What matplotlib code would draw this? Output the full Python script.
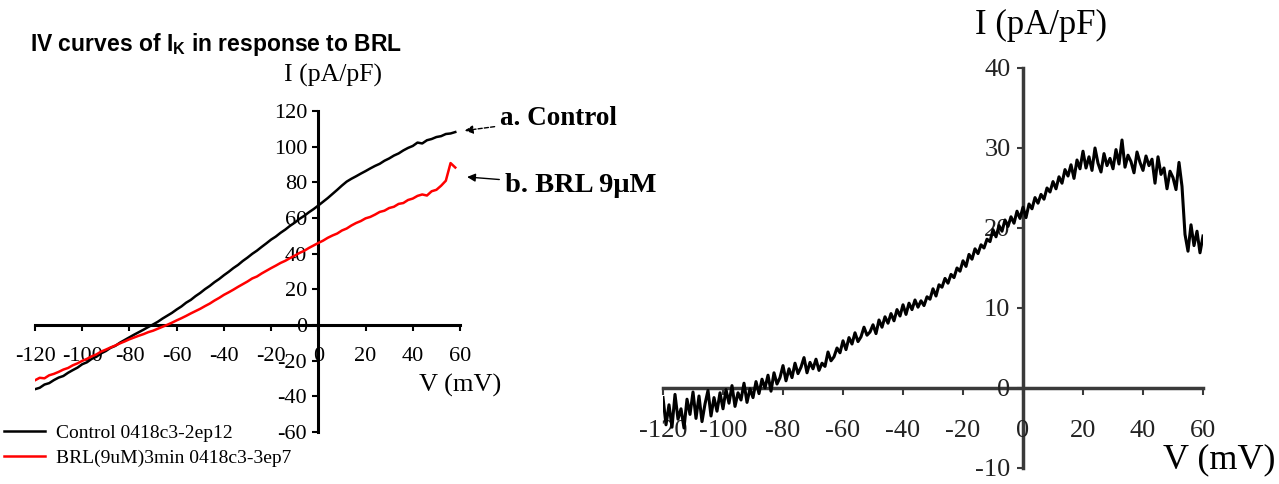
import numpy as np
import matplotlib.pyplot as plt

plt.rcParams['axes.unicode_minus'] = False

# ---------------------------------------------------------------
# IV data, left panel: control vs BRL (9 uM), sampled every 2 mV
# ---------------------------------------------------------------
v_left = np.arange(-120, 59, 2)

i_control = [
    -36.0, -35.2, -33.4, -32.6, -30.9, -29.5, -28.6, -26.8, -25.3, -23.9,
    -22.0, -20.9, -19.0, -17.8, -15.9, -14.6, -12.8, -11.7, -9.9, -8.4,
    -6.9, -5.4, -4.0, -2.6, -1.1, 0.3, 1.8, 3.6, 5.2, 6.8,
    8.7, 10.4, 12.5, 14.1, 16.2, 18.0, 20.1, 21.9, 24.0, 25.8,
    27.9, 29.8, 31.9, 33.7, 35.9, 37.8, 39.9, 41.7, 43.8, 45.8,
    47.9, 49.6, 51.7, 53.5, 55.6, 57.4, 59.5, 61.2, 63.2, 65.0,
    67.0, 69.1, 71.2, 73.5, 75.8, 78.2, 80.4, 82.0, 83.4, 84.9,
    86.3, 87.8, 89.2, 90.4, 92.1, 93.4, 95.0, 96.2, 97.9, 99.3,
    100.4, 102.3, 101.8, 103.6, 104.3, 105.4, 105.9, 107.1, 107.4, 108.2,
]

i_brl = [
    -31.0, -29.6, -29.9, -28.2, -27.4, -26.3, -25.0, -24.1, -22.6, -21.5,
    -20.1, -19.0, -17.6, -16.5, -14.9, -13.8, -12.6, -11.5, -10.3, -9.2,
    -8.0, -7.0, -6.0, -5.1, -4.0, -3.2, -2.1, -1.0, 0.1, 1.3,
    2.6, 3.8, 5.1, 6.5, 7.8, 9.1, 10.6, 12.0, 13.7, 15.2,
    16.9, 18.3, 19.8, 21.4, 22.9, 24.4, 26.1, 27.2, 28.9, 30.4,
    31.9, 33.3, 34.8, 36.0, 37.5, 38.9, 40.4, 41.6, 43.2, 44.6,
    46.0, 47.3, 48.9, 50.2, 51.3, 53.0, 54.1, 55.8, 57.2, 58.3,
    59.8, 60.6, 61.9, 63.4, 64.1, 65.6, 66.3, 67.9, 68.4, 70.1,
    70.9, 72.4, 73.2, 72.6, 75.0, 75.8, 78.1, 80.9, 90.8, 88.3,
]

# ---------------------------------------------------------------
# Right panel: BRL-sensitive current, sampled every 1 mV
# ---------------------------------------------------------------
v_right = np.arange(-120, 61, 1)

i_diff = [
    -1.2, -4.6, -2.1, -4.9, -0.8, -3.9, -2.6, -5.0, -1.4, -3.3,
    -0.5, -3.8, -1.0, -4.2, -2.0, -0.3, -3.5, -1.2, -2.9, -0.6,
    -2.6, -0.2, -1.9, 0.3, -2.3, -0.6, -1.5, 0.6, -1.8, -0.1,
    -1.2, 0.8, -0.7, 1.1, 0.0, 1.6, -0.4, 1.9, 0.5, 1.3,
    2.8, 0.9, 2.4, 1.3, 3.1, 1.8, 2.6, 3.8, 1.9, 3.2,
    2.4, 3.6, 2.2, 3.1, 2.7, 4.5, 3.4, 3.9, 5.0, 4.4,
    5.9, 4.8, 6.3, 5.5, 6.9, 5.8, 6.4, 7.6, 6.6, 7.0,
    7.9, 6.8, 8.5, 7.6, 8.9, 8.1, 9.3, 8.4, 9.8, 9.0,
    10.4, 9.2, 10.6, 9.8, 11.0, 10.1, 10.9, 10.3, 11.4, 11.1,
    12.4, 11.5, 12.9, 12.6, 13.7, 13.1, 14.2, 13.8, 15.0, 14.6,
    15.9, 15.2, 16.7, 16.1, 17.4, 16.8, 17.9, 17.5, 18.6, 18.3,
    19.8, 18.9, 20.3, 19.6, 21.0, 20.2, 21.4, 20.6, 22.1, 21.2,
    22.6, 21.3, 23.0, 22.4, 23.8, 23.1, 24.2, 23.6, 25.0, 24.5,
    25.8, 24.9, 26.4, 25.6, 27.3, 26.5, 27.9, 26.2, 28.5, 27.4,
    29.6, 27.5, 28.9, 27.2, 30.0, 28.1, 27.0, 29.3, 27.8, 28.7,
    27.4, 29.8, 28.0, 31.0, 27.6, 29.1, 28.3, 26.9, 29.5, 28.2,
    27.2, 29.0, 27.8, 28.6, 25.6, 28.9, 26.7, 27.5, 24.9, 27.1,
    26.3, 24.8, 28.2, 25.2,
    19.2, 17.1, 20.4, 17.8, 19.6, 16.9, 19.0,
]

x_ticks = [-120, -100, -80, -60, -40, -20, 0, 20, 40, 60]
y_ticks_left = [-60, -40, -20, 0, 20, 40, 60, 80, 100, 120]
y_ticks_right = [-10, 0, 10, 20, 30, 40]

serif = 'Liberation Serif'
W, H = 1279, 484

fig = plt.figure(figsize=(W / 100, H / 100), dpi=100)


def px_axes(x0, x1, y_top, y_bot):
    # axes placed by pixel edges of the data area
    return fig.add_axes([x0 / W, 1 - y_bot / H, (x1 - x0) / W, (y_bot - y_top) / H])


def cross_axes(ax, lw, color):
    for side in ('top', 'right'):
        ax.spines[side].set_visible(False)
    for side in ('left', 'bottom'):
        ax.spines[side].set_position(('data', 0))
        ax.spines[side].set_linewidth(lw)
        ax.spines[side].set_color(color)
        ax.spines[side].set_zorder(1)
    ax.set_facecolor('none')


# ---------------- left panel ----------------
ax1 = px_axes(35, 460, 111, 432)
ax1.plot(v_left, i_control, color='black', lw=1.8, zorder=3)
ax1.plot(v_left, i_brl, color='red', lw=1.8, zorder=3)
ax1.set_xlim(-120, 60)
ax1.set_ylim(-60, 120)
cross_axes(ax1, 2.2, 'black')
ax1.set_xticks(x_ticks)
ax1.set_yticks(y_ticks_left)
ax1.tick_params(axis='x', direction='out', length=4, width=1.5, pad=12,
                labelsize=16)
ax1.tick_params(axis='y', direction='out', length=4, width=1.5, pad=4,
                labelsize=16)
for lab in ax1.get_xticklabels() + ax1.get_yticklabels():
    lab.set_fontfamily(serif)

ax1.text(6, 140, 'I (pA/pF)', family=serif, fontsize=18.5, ha='center',
         va='center', clip_on=False)
ax1.text(60, -34, 'V (mV)', family=serif, fontsize=19, ha='center',
         va='center', clip_on=False)

ax1.annotate('a. Control', xy=(62, 109), xytext=(77, 116), family=serif,
             fontsize=19.5, fontweight='bold', va='center', ha='left',
             annotation_clip=False,
             arrowprops=dict(arrowstyle='-|>', color='black', lw=1,
                             linestyle=(0, (3, 1.5)), mutation_scale=12,
                             shrinkA=2, shrinkB=0))
ax1.annotate('b. BRL 9\u03bcM', xy=(63, 83), xytext=(79, 78), family=serif,
             fontsize=20.5, fontweight='bold', va='center', ha='left',
             annotation_clip=False,
             arrowprops=dict(arrowstyle='-|>', color='black', lw=1,
                             mutation_scale=12, shrinkA=2, shrinkB=0))

fig.text(30 / W, 1 - 45 / H, r'IV curves of I$_\mathregular{K}$ in response to BRL',
         family='Liberation Sans', fontweight='bold', fontsize=16.5,
         ha='left', va='center')

# legend drawn as a block at the lower left
fig.legend(handles=ax1.lines, labels=['Control 0418c3-2ep12',
                                      'BRL(9uM)3min 0418c3-3ep7'],
           loc='upper left', bbox_to_anchor=(4 / W, 1 - 424 / H),
           frameon=False, prop={'family': serif, 'size': 14},
           handlelength=2.1, handletextpad=0.6, labelspacing=0.4,
           borderaxespad=0, borderpad=0)

# ---------------- right panel ----------------
ax2 = px_axes(663, 1203, 68, 468)
ax2.plot(v_right, i_diff, color='black', lw=2.2, zorder=3)
ax2.set_xlim(-120, 60)
ax2.set_ylim(-10, 40)
cross_axes(ax2, 2.5, '#3a3a3a')
ax2.set_xticks(x_ticks)
ax2.set_yticks(y_ticks_right)
ax2.tick_params(axis='x', direction='out', length=5, width=1.5, pad=18,
                labelsize=19, colors='#3a3a3a', labelcolor='#222222')
ax2.tick_params(axis='y', direction='out', length=4, width=1.5, pad=5,
                labelsize=19, colors='#3a3a3a', labelcolor='#222222')
for lab in ax2.get_xticklabels() + ax2.get_yticklabels():
    lab.set_fontfamily(serif)

ax2.text(6, 45.3, 'I (pA/pF)', family=serif, fontsize=25, ha='center',
         va='center', clip_on=False)
ax2.text(65.5, -9, 'V (mV)', family=serif, fontsize=26, ha='center',
         va='center', clip_on=False)

fig.savefig('out.png', dpi=100)
